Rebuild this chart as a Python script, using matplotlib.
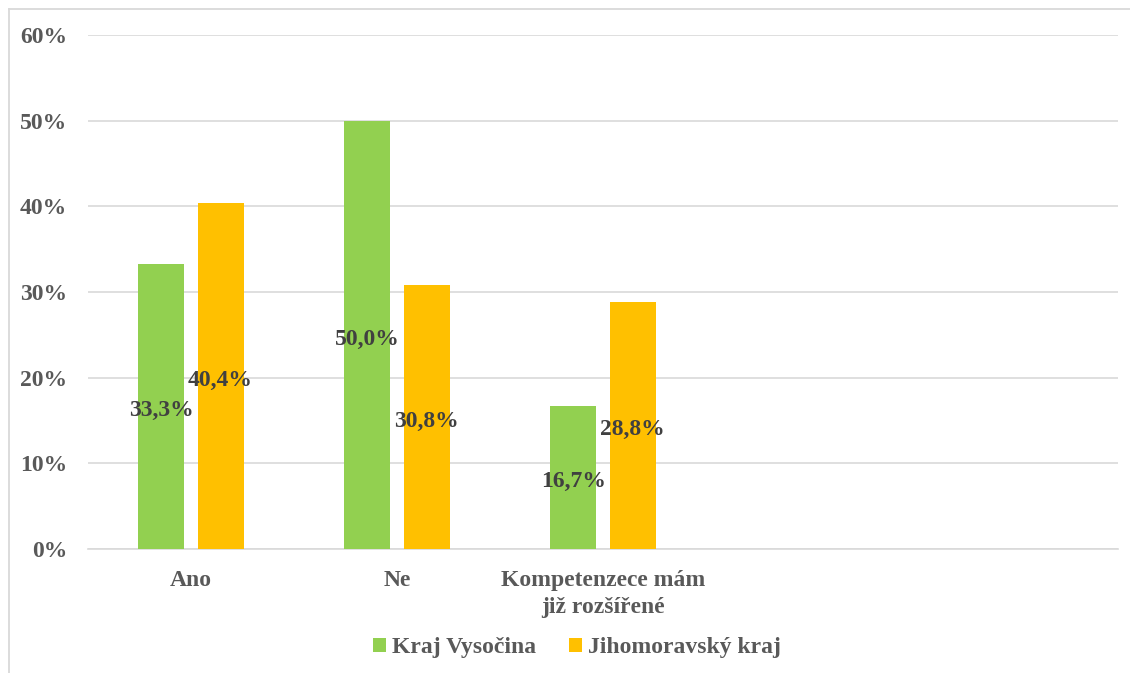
import matplotlib
matplotlib.use("Agg")
import matplotlib.pyplot as plt
from matplotlib.lines import Line2D
import numpy as np

categories = ["Ano", "Ne", "Kompetenzece mám\njiž rozšířené", "", ""]
series_names = ["Kraj Vysočina", "Jihomoravský kraj"]
vysocina = [0.333, 0.500, 0.167]
jihomoravsky = [0.404, 0.308, 0.288]
labels_vysocina = ["33,3%", "50,0%", "16,7%"]
labels_jihomoravsky = ["40,4%", "30,8%", "28,8%"]
yticks = [0.0, 0.1, 0.2, 0.3, 0.4, 0.5, 0.6]
ytick_labels = ["0%", "10%", "20%", "30%", "40%", "50%", "60%"]

colors = ["#92D050", "#FFC000"]
plt.rcParams['font.family'] = ['Liberation Serif', 'DejaVu Serif']
plt.rcParams['font.weight'] = 'bold'

W, H = 1130, 673
fig = plt.figure(figsize=(W / 100, H / 100), dpi=100)
fig.patch.set_facecolor("white")
top = (H - 9) / H
left = 8.5 / W
fig.lines.append(Line2D([left, 1.0], [top, top], transform=fig.transFigure,
                        color="#d9d9d9", lw=1.3))
fig.lines.append(Line2D([left, left], [0.0, top], transform=fig.transFigure,
                        color="#d9d9d9", lw=1.3))

ax = fig.add_axes([88 / W, (H - 549) / H, (1118 - 88) / W, (549 - 35) / H])
x = np.arange(len(categories))
bw = 0.223
off = 0.1435
xv = x[:len(vysocina)]
b1 = ax.bar(xv - off, vysocina, bw, color=colors[0], label=series_names[0], zorder=3)
b2 = ax.bar(xv + off, jihomoravsky, bw, color=colors[1], label=series_names[1], zorder=3)

for bars, labs in ((b1, labels_vysocina), (b2, labels_jihomoravsky)):
    for r, lab in zip(bars, labs):
        ax.annotate(lab, (r.get_x() + r.get_width() / 2, r.get_height() / 2),
                    xytext=(0, -3), textcoords="offset points",
                    ha="center", va="center", fontsize=17, color="#404040",
                    fontweight="bold", zorder=4)

ax.set_xlim(-0.5, len(categories) - 0.5)
ax.set_ylim(0, 0.6)
ax.set_yticks(yticks)
ax.set_yticklabels(ytick_labels)
ax.set_xticks(x)
ax.set_xticklabels(categories, linespacing=1.4)
ax.tick_params(axis="y", length=0, pad=15, labelsize=17, labelcolor="#595959")
ax.tick_params(axis="x", length=0, pad=15, labelsize=17, labelcolor="#595959")
ax.grid(axis="y", color="#d9d9d9", lw=1.2, zorder=0)
for s in ["top", "right", "left"]:
    ax.spines[s].set_visible(False)
ax.spines["bottom"].set_color("#d9d9d9")
ax.spines["bottom"].set_linewidth(1.2)

fig.legend(handles=[b1, b2], labels=series_names, loc="center",
           bbox_to_anchor=(577 / W, (H - 648) / H), ncol=2, frameon=False,
           fontsize=17, labelcolor="#595959", handlelength=0.55, handleheight=0.55,
           handletextpad=0.25, columnspacing=1.4)

fig.savefig("out.png", dpi=100, facecolor="white")
